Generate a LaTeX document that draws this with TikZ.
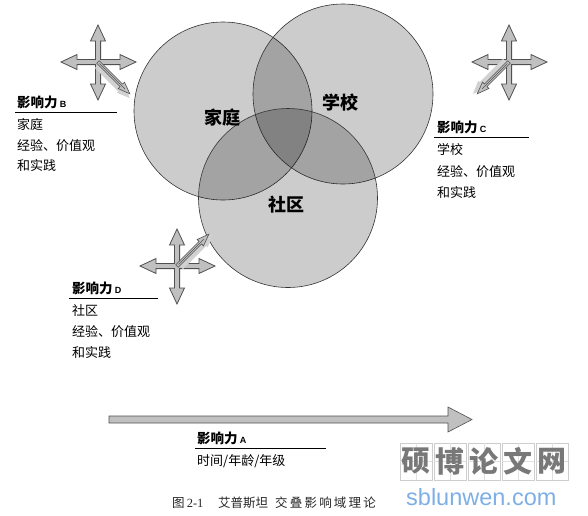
\documentclass[tikz,border=0pt]{standalone}
\usepackage{fontspec}
\setmainfont{Liberation Serif}
\newfontfamily\cjk{Noto Sans CJK SC}
\newfontfamily\latinsans{Liberation Sans}
\definecolor{arrfill}{RGB}{192,192,192}
\definecolor{arrline}{RGB}{80,80,80}
\definecolor{wmgray}{RGB}{120,120,120}
\definecolor{wmgrid}{RGB}{205,205,205}
\definecolor{wmblue}{RGB}{125,175,230}
\newcommand{\crossarrow}[2]{%
  \begin{scope}[shift={(#1,#2)}]
    \filldraw[fill=arrfill,draw=arrline,line width=0.8pt,line join=miter]
      (0,-37) -- (7.5,-21) -- (2.6,-21) -- (2.6,-2.6) -- (22,-2.6) -- (22,-7.5) -- (38,0)
      -- (22,7.5) -- (22,2.6) -- (2.6,2.6) -- (2.6,22) -- (7.5,22) -- (0,38)
      -- (-7.5,22) -- (-2.6,22) -- (-2.6,2.6) -- (-21,2.6) -- (-21,7.5) -- (-37,0)
      -- (-21,-7.5) -- (-21,-2.6) -- (-2.6,-2.6) -- (-2.6,-21) -- (-7.5,-21) -- cycle;
  \end{scope}}
\newcommand{\diagarrow}[3]{%
  \begin{scope}[shift={(#1,#2)},rotate=#3]
    \fill[black!18] (2,-0.5) -- (35,-0.5) -- (35,-2.5) -- (48,3) -- (35,8.5) -- (35,6.5) -- (2,6.5) -- cycle;
    \filldraw[fill=arrfill,draw=arrline,line width=0.6pt]
      (0,-1.8) -- (33,-1.8) -- (33,-4.5) -- (45,0) -- (33,4.5) -- (33,1.8) -- (0,1.8) -- cycle;
    \draw[arrline,line width=0.4pt] (2,0) -- (38,0);
  \end{scope}}
\begin{document}
\begin{tikzpicture}[x=1pt,y=-1pt,
  circ/.style={circle,draw=black!80,line width=0.6pt,fill=black,fill opacity=0.2,draw opacity=1,inner sep=0pt},
  clabel/.style={font=\cjk\bfseries\fontsize{18}{18}\selectfont,inner sep=0pt},
  head/.style={font=\cjk\bfseries\fontsize{13.5}{14}\selectfont,anchor=west,inner sep=0pt},
  body/.style={font=\cjk\fontsize{13}{14}\selectfont,anchor=west,inner sep=0pt},
  captxt/.style={font=\cjk\fontsize{12.5}{13}\selectfont,inner sep=0pt,anchor=west,text=black!85},
  rule/.style={line width=0.7pt,black}]
\useasboundingbox (0,0) rectangle (588,515);
% circles
\node[circ,minimum size=178pt] (home) at (223,111) {};
\node[circ,minimum size=180pt] (school) at (343,94) {};
\node[circ,minimum size=179pt] (comm) at (288,198) {};
\node[clabel] (homeT) at (222,118) {家庭};
\node[clabel] (schoolT) at (340,103) {学校};
\node[clabel] (commT) at (286,205) {社区};
% crosses
\crossarrow{98}{62}
\diagarrow{98}{62}{-45}
\crossarrow{509}{62}
\diagarrow{509}{62}{-135}
\crossarrow{177}{266}
\diagarrow{177}{266}{45}
% influence B
\node[head] (bH) at (17,102) {影响力\,{\latinsans\bfseries\fontsize{9}{9}\selectfont B}};
\coordinate (bL1) at (15,112); \coordinate (bL2) at (117,112);
\draw[rule] (bL1) -- (bL2);
\node[body] (b1) at (17,125) {家庭};
\node[body] (b2) at (17,146) {经验、价值观};
\node[body] (b3) at (17,165) {和实践};
% influence C
\node[head] (cH) at (437,127) {影响力\,{\latinsans\bfseries\fontsize{9}{9}\selectfont C}};
\coordinate (cL1) at (434,137); \coordinate (cL2) at (529,137);
\draw[rule] (cL1) -- (cL2);
\node[body] (c1) at (437,150) {学校};
\node[body] (c2) at (437,172) {经验、价值观};
\node[body] (c3) at (437,192) {和实践};
% influence D
\node[head] (dH) at (72,288) {影响力\,{\latinsans\bfseries\fontsize{9}{9}\selectfont D}};
\coordinate (dL1) at (69,298); \coordinate (dL2) at (158,298);
\draw[rule] (dL1) -- (dL2);
\node[body] (d1) at (72,311) {社区};
\node[body] (d2) at (72,332) {经验、价值观};
\node[body] (d3) at (72,352) {和实践};
% influence A arrow
\filldraw[fill=arrfill,draw=arrline,line width=0.6pt]
  (109,416) -- (448,416) -- (448,407) -- (472,419.5) -- (448,432) -- (448,423) -- (109,423) -- cycle;
\node[head] (aH) at (197,438) {影响力\,{\latinsans\bfseries\fontsize{9}{9}\selectfont A}};
\coordinate (aL1) at (195,448); \coordinate (aL2) at (326,448);
\draw[rule] (aL1) -- (aL2);
\node[body] (a1) at (197,461) {时间/年龄/年级};
% caption
\node[captxt] (cap1) at (172,503) {图\,{\rmfamily 2-1}};
\node[captxt] (cap2) at (218,503) {艾普斯坦};
\node[captxt] (cap3) at (275,503) {交\hspace{2.2pt}叠\hspace{2.2pt}影\hspace{2.2pt}响\hspace{2.2pt}域\hspace{2.2pt}理\hspace{2.2pt}论};
% watermark
\foreach \i/\ch in {0/硕,1/博,2/论,3/文,4/网}{
  \draw[wmgrid,line width=0.6pt] (400+34*\i,443) rectangle (432+34*\i,480);
  \draw[wmgrid!60,line width=0.4pt] (416+34*\i,443) -- (416+34*\i,480) (400+34*\i,461.5) -- (432+34*\i,461.5);
  \node[font=\cjk\bfseries\fontsize{29}{29}\selectfont,text=wmgray,inner sep=0pt] (wm\i) at (416+34*\i,461.5) {\ch};
}
\node[font=\latinsans\fontsize{23.5}{24}\selectfont,text=wmblue,inner sep=0pt,anchor=west] (wmurl) at (406,497) {sblunwen.com};
\end{tikzpicture}
\end{document}
